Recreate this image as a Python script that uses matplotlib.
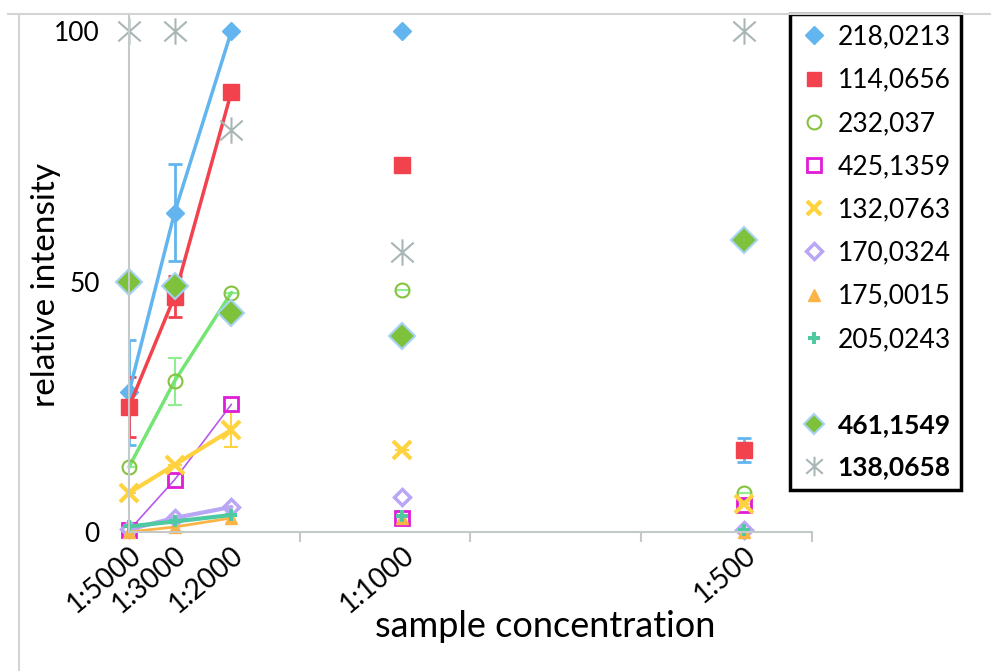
import numpy as np
import matplotlib
matplotlib.use("Agg")
import matplotlib.pyplot as plt
from matplotlib.lines import Line2D
from matplotlib.path import Path

plt.rcParams['font.family'] = ['Lato', 'DejaVu Sans']

# sample dilutions and their labels
dilution_labels = ['1:5000', '1:3000', '1:2000', '1:1000', '1:500']
dilutions = np.array([5000, 3000, 2000, 1000, 500])
conc = 10000 / dilutions

# relative intensity per m/z
s218 = [27.9, 63.7, 100, 100, np.nan]
s114 = [25.0, 47.0, 87.9, 73.3, 16.4]
s232 = [13.0, 30.1, 47.8, 48.4, 7.8]
s425 = [0.3, 10.4, 25.5, 2.8, 5.4]
s132 = [7.8, 13.4, 20.4, 16.4, 5.6]
s170 = [0.5, 2.8, 5.0, 7.0, 0.3]
s175 = [0.0, 1.0, 2.8, 2.8, 0.0]
s205 = [1.1, 2.1, 3.4, 3.1, 0.4]
s461 = [50.0, 49.1, 43.8, 39.1, 58.3]
s138 = [100, 100, 80.2, 55.8, 100]

# error bars (standard deviation)
err218 = [10.5, 9.7, 0, 0, 0]
err114 = [6.0, 4.0, 0, 0, 2.4]
err232 = [0, 4.7, 0, 0, 0]
err132 = [0, 0, 3.5, 0, 0]

# asterisk marker like the excel one
star = Path([(0, -1), (0, 1), (-0.85, -0.75), (0.85, 0.75), (-0.85, 0.75), (0.85, -0.75)],
            [Path.MOVETO, Path.LINETO, Path.MOVETO, Path.LINETO, Path.MOVETO, Path.LINETO])

series = [
    # label, values, line color, marker, marker kwargs, line width, has line
    ('218,0213', s218, '#62B5EE', 'D', dict(ms=9.5, mfc='#62B5EE', mec='#62B5EE'), 2.5, True),
    ('114,0656', s114, '#F2424E', 's', dict(ms=11, mfc='#F2424E', mec='#F2424E'), 2.5, True),
    ('232,037', s232, '#72E572', 'o', dict(ms=10, mfc='none', mec='#86C23E', mew=1.5), 2.5, True),
    ('425,1359', s425, '#B858EE', 's', dict(ms=10, mfc='none', mec='#E01CD8', mew=2), 1.2, True),
    ('132,0763', s132, '#FFD23F', 'x', dict(ms=13, mec='#FFD23F', mew=3), 3, True),
    ('170,0324', s170, '#B9A6F4', 'D', dict(ms=8, mfc='none', mec='#B9A6F4', mew=2.5), 3, True),
    ('175,0015', s175, '#FDB446', '^', dict(ms=9, mfc='#FDB446', mec='#FDB446'), 2, True),
    ('205,0243', s205, '#4FC9A2', 'P', dict(ms=9, mfc='#4FC9A2', mec='#4FC9A2', mew=0), 3, True),
    ('461,1549', s461, None, 'D', dict(ms=13, mfc='#7DC23A', mec='#A6D2F2', mew=1.5), 0, False),
    ('138,0658', s138, None, star, dict(ms=19, mfc='none', mec='#A9B6B6', mew=1.5), 0, False),
]

fig = plt.figure(figsize=(9.91, 6.71), dpi=100)
ax = fig.add_axes([129 / 991, 1 - 532 / 671, 683 / 991, 518 / 671])

# chart frame lines (top and left)
fig.add_artist(Line2D([8 / 991, 1], [1 - 14 / 671, 1 - 14 / 671], color='#D4D4D4', lw=1.5))
fig.add_artist(Line2D([19 / 991, 19 / 991], [0, 1 - 14 / 671], color='#D4D4D4', lw=1.5))

# error bars first so markers sit on top
ax.errorbar(conc, s218, yerr=err218, fmt='none', ecolor='#62B5EE', elinewidth=2, capsize=5, capthick=2)
ax.errorbar(conc[:4], s114[:4], yerr=err114[:4], fmt='none', ecolor='#F2424E', elinewidth=2, capsize=5, capthick=2)
ax.errorbar(conc[4:], s114[4:], yerr=err114[4:], fmt='none', ecolor='#62B5EE', elinewidth=2, capsize=5, capthick=2)
ax.errorbar(conc, s232, yerr=err232, fmt='none', ecolor='#90EE90', elinewidth=1.5, capsize=5, capthick=1.5)
ax.errorbar(conc, s132, yerr=err132, fmt='none', ecolor='#FFD23F', elinewidth=1.5, capsize=5, capthick=1.5)

handles = []
for label, vals, lc, mk, mkw, lw, has_line in series:
    if has_line:
        ax.plot(conc[:3], vals[:3], color=lc, lw=lw, solid_capstyle='round', clip_on=False)
    ax.plot(conc, vals, linestyle='none', marker=mk, clip_on=False, **mkw)
    hk = dict(mkw)
    hk['ms'] = min(hk['ms'], 10) if mk is not star else 14
    handles.append(Line2D([], [], linestyle='none', marker=mk, **hk))

ax.set_xlim(2, 22)
ax.set_ylim(0, 518 / 5.01)

ax.set_xticks(conc)
ax.set_xticklabels(dilution_labels, rotation=40, ha='right', va='top', rotation_mode='anchor')
ax.set_xticks([2, 7, 12, 17, 22], minor=True)
ax.tick_params(axis='x', which='major', length=0, pad=7, labelsize=20)
ax.tick_params(axis='x', which='minor', length=7, width=1.5, color='#C4CACA', direction='out')
ax.set_yticks([0, 50, 100])
ax.tick_params(axis='y', length=0, pad=21, labelsize=19)

for side in ['top', 'right']:
    ax.spines[side].set_visible(False)
ax.spines['left'].set_color('#C4CACA')
ax.spines['bottom'].set_color('#C4CACA')
ax.spines['left'].set_linewidth(1.5)
ax.spines['bottom'].set_linewidth(1.5)

ax.set_xlabel('sample concentration', fontsize=26)
ax.xaxis.set_label_coords(0.609, -0.15)
ax.set_ylabel('relative intensity', fontsize=24)
ax.yaxis.set_label_coords(-0.1, 0.477)

# legend with an empty row before the last two entries
labels = [s[0] for s in series]
handles.insert(8, Line2D([], [], linestyle='none'))
labels.insert(8, ' ')
leg = ax.legend(handles, labels, loc='upper left', bbox_to_anchor=(790 / 991, 1 - 14 / 671),
                bbox_transform=fig.transFigure, borderaxespad=0, fancybox=False, framealpha=1,
                edgecolor='black', fontsize=19, handlelength=1.0, handletextpad=0.4,
                labelspacing=0.69, borderpad=0.4)
leg.get_frame().set_linewidth(2.5)
for t in leg.get_texts()[-2:]:
    t.set_fontweight('bold')

fig.savefig('out.png', dpi=100)
